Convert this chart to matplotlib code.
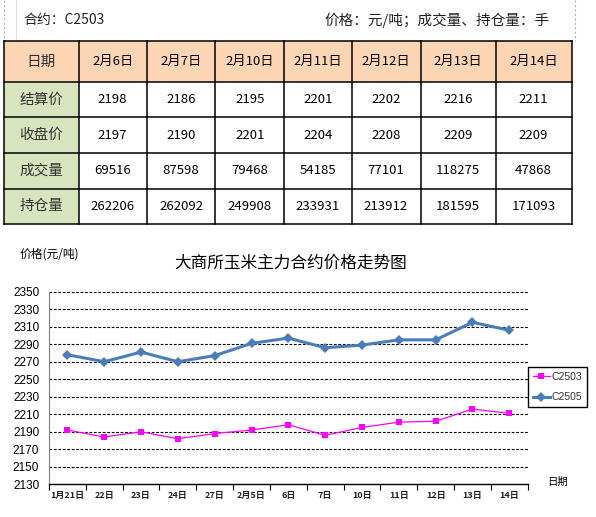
import matplotlib
matplotlib.use('Agg')
import matplotlib.pyplot as plt
from matplotlib.patches import Rectangle
from matplotlib.lines import Line2D

plt.rcParams['font.family'] = ['Noto Sans CJK SC', 'DejaVu Sans']

# table data
contract = '合约：C2503'
unit_note = '价格：元/吨；成交量、持仓量：手'
row_names = ['日期', '结算价', '收盘价', '成交量', '持仓量']
dates = ['2月6日', '2月7日', '2月10日', '2月11日', '2月12日', '2月13日', '2月14日']
settle = [2198, 2186, 2195, 2201, 2202, 2216, 2211]
close = [2197, 2190, 2201, 2204, 2208, 2209, 2209]
volume = [69516, 87598, 79468, 54185, 77101, 118275, 47868]
open_int = [262206, 262092, 249908, 233931, 213912, 181595, 171093]

# chart data
x_labels = ['1月21日', '22日', '23日', '24日', '27日', '2月5日', '6日',
            '7日', '10日', '11日', '12日', '13日', '14日']
c2503 = [2192, 2184, 2190, 2182, 2188, 2192, 2198, 2186, 2195, 2201, 2202, 2216, 2211]
c2505 = [2278, 2270, 2281, 2270, 2277, 2291, 2297, 2286, 2289, 2295, 2295, 2315, 2306]
y_ticks = list(range(2130, 2351, 20))

W, H = 596, 517
fig = plt.figure(figsize=(W / 100, H / 100), dpi=100)

# overlay in pixel coords for the table part
bg = fig.add_axes([0, 0, 1, 1])
bg.set_xlim(0, W)
bg.set_ylim(H, 0)
bg.axis('off')

# header box
bg.plot([4, 4], [0, 41], color='#b0b0b0', lw=0.8, ls=(0, (2, 2)))
bg.plot([16, 16], [0, 41], color='#e0e0e0', lw=0.8)
bg.plot([575, 575], [0, 41], color='#b0b0b0', lw=0.8, ls=(0, (2, 2)))
bg.text(23, 20, contract, fontsize=10, va='center', ha='left', color='#222222')
bg.text(550, 20, unit_note, fontsize=10.5, va='center', ha='right', color='#222222')

col_x = [4, 78.6, 146.8, 215.3, 284.2, 351.6, 420.6, 495.6, 571.7]
row_y = [41.3, 82.3, 117.3, 153.3, 188.5, 224]

bg.add_patch(Rectangle((col_x[0], row_y[0]), col_x[-1] - col_x[0], row_y[1] - row_y[0],
                       facecolor='#fcd5b4', edgecolor='none'))
bg.add_patch(Rectangle((col_x[0], row_y[1]), col_x[1] - col_x[0], row_y[-1] - row_y[1],
                       facecolor='#d7e4bd', edgecolor='none'))
for x in col_x:
    bg.add_line(Line2D([x, x], [row_y[0], row_y[-1]], color='black', lw=1.1))
for y in row_y:
    bg.add_line(Line2D([col_x[0], col_x[-1]], [y, y], color='black', lw=1.1))

rows = [dates, settle, close, volume, open_int]
for r, (name, vals) in enumerate(zip(row_names, rows)):
    cy = (row_y[r] + row_y[r + 1]) / 2
    bg.text((col_x[0] + col_x[1]) / 2, cy, name, fontsize=10.5, ha='center', va='center',
            color='#333333')
    for c, v in enumerate(vals):
        bg.text((col_x[c + 1] + col_x[c + 2]) / 2, cy, str(v), fontsize=9.5,
                ha='center', va='center', color='black')

# price chart
ax = fig.add_axes([49 / W, 1 - 484.3 / H, (527.7 - 49) / W, (484.3 - 291.7) / H])
xs = list(range(len(x_labels)))
ax.plot(xs, c2503, color='#ff00ff', lw=0.9, marker='s', markersize=4.5,
        markeredgewidth=0, label='C2503')
ax.plot(xs, c2505, color='#4a7ebb', lw=2.2, marker='D', markersize=5.5,
        markeredgewidth=0, label='C2505')

ax.set_xlim(-0.5, len(x_labels) - 0.5)
ax.set_ylim(2130, 2350)
ax.set_yticks(y_ticks)
ax.set_yticklabels([str(t) for t in y_ticks], family='Liberation Sans', fontsize=8.5)
ax.tick_params(axis='y', length=0, pad=7)
ax.set_xticks([i - 0.5 for i in range(len(x_labels) + 1)])
ax.set_xticklabels([])
ax.set_xticks(xs, minor=True)
ax.set_xticklabels(x_labels, minor=True, fontsize=6.5, fontweight='bold', color='#222222')
ax.tick_params(axis='x', which='major', length=4, width=0.8, direction='out')
ax.tick_params(axis='x', which='minor', length=0, pad=5)

for t in y_ticks[1:]:
    ax.axhline(t, color='black', lw=0.8, ls=(0, (2.5, 1.5)), zorder=0.5)
for s in ['top', 'right']:
    ax.spines[s].set_visible(False)
ax.spines['left'].set_color('#808080')
ax.spines['bottom'].set_color('black')
ax.spines['bottom'].set_linewidth(1)

fig.text(291 / W, 1 - 263 / H, '大商所玉米主力合约价格走势图', fontsize=12,
         ha='center', va='center')
fig.text(20 / W, 1 - 254 / H, '价格(元/吨)', fontsize=8.5, ha='left', va='center')
fig.text(547 / W, 1 - 482 / H, '日期', fontsize=7.5, ha='left', va='center')

leg = fig.legend(loc='upper left', bbox_to_anchor=(528.3 / W, 1 - 367.3 / H),
                 frameon=True, fancybox=False, edgecolor='black', framealpha=1,
                 prop={'family': 'Liberation Sans', 'size': 7.5}, handlelength=1.6,
                 handletextpad=0.15, labelspacing=1.0, borderpad=0.45, borderaxespad=0)
leg.get_frame().set_linewidth(1)
for txt in leg.get_texts():
    txt.set_color('#333333')

fig.savefig('out.png', dpi=100)
